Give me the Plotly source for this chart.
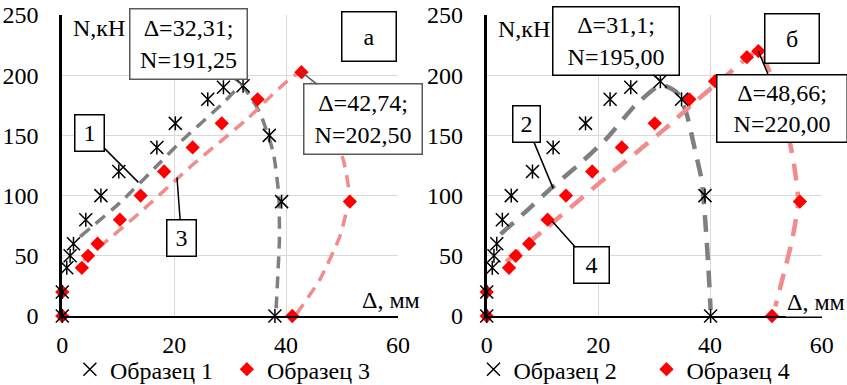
import plotly.graph_objects as go

# ---------------- data ----------------
# Panel a
x1 = [0, 0, 0.8, 1.4, 2.0, 4.2, 6.9, 10.1, 16.9, 20.2, 26.0, 28.8, 32.31, 37.0, 39.2, 38.0]
y1 = [0, 20, 40, 50, 60, 80, 100, 120, 140, 160, 180, 190, 191.25, 150, 95, 0]
x3 = [0, 0, 3.5, 4.6, 6.3, 10.3, 14.0, 18.2, 23.3, 28.5, 34.9, 42.74, 51.4, 41.1]
y3 = [0, 20, 40, 50, 60, 80, 100, 120, 140, 160, 180, 202.5, 95, 0]
grey_a_x = [3.2, 10.3, 17.4, 21.0, 28.8, 32.0, 35.3, 37.7, 38.7, 38.8, 38.2]
grey_a_y = [66, 94, 127, 144, 177, 191, 169, 136, 100, 63, 5]
red_a_x = [3.75, 13.9, 23.4, 32.9, 42.1, 45.0, 50.2, 51.3, 49.6, 46.0, 41.9]
red_a_y = [46, 86, 126, 163, 201, 190, 130, 100, 66, 30, 2]

# Panel b
x2 = [0, 0, 1.0, 1.3, 1.8, 2.8, 4.4, 8.2, 11.9, 17.7, 22.1, 25.8, 31.1, 34.9, 39.1, 40.1]
y2 = [0, 20, 40, 50, 60, 80, 100, 120, 140, 160, 180, 190, 195, 180, 100, 0]
x4 = [0, 0, 4.0, 5.2, 7.6, 10.9, 14.2, 18.9, 24.2, 30.1, 36.3, 40.9, 46.6, 48.66, 56.1, 51.1]
y4 = [0, 20, 40, 50, 60, 80, 100, 120, 140, 160, 180, 195, 215, 220, 95, 0]
grey_b_x = [2.5, 7.3, 11.5, 16.8, 21.6, 26.4, 31.2, 34.2, 35.8, 37.3, 38.5, 39.1, 39.7, 40.1]
grey_b_y = [68, 88, 106, 127, 148, 174, 192, 185, 168, 138, 113, 82, 41, 5]
red_b_x = [3.5, 10.9, 21.6, 31.8, 37.6, 43.0, 48.66, 52.5, 54.9, 55.8, 54.7, 53.2, 51.7]
red_b_y = [45, 74, 116, 155, 179, 200, 220, 180, 130, 95, 63, 35, 8]

x_ticks = [0, 20, 40, 60]
y_ticks = [0, 50, 100, 150, 200, 250]

names = ["Образец 1", "Образец 3", "Образец 2", "Образец 4"]

FONT = "Liberation Serif"
GREY = "#7F7F7F"
SALMON = "#F28B8B"
RED = "#FF0000"

fig = go.Figure()


def add_panel(xs, ys, xd, yd, gx, gy, rx, ry, xa, ya, leg, n_star, n_dia, dash_g, lw):
    fig.add_trace(go.Scatter(x=gx, y=gy, mode="lines", line=dict(color=GREY, width=lw, dash=dash_g, shape="spline", smoothing=0.5),
                             xaxis=xa, yaxis=ya, showlegend=False, hoverinfo="skip"))
    fig.add_trace(go.Scatter(x=rx, y=ry, mode="lines", line=dict(color=SALMON, width=lw, dash=dash_g, shape="spline", smoothing=0.5),
                             xaxis=xa, yaxis=ya, showlegend=False, hoverinfo="skip"))
    fig.add_trace(go.Scatter(x=xd, y=yd, mode="markers", name=n_dia, legend=leg, legendrank=2,
                             marker=dict(symbol="diamond", size=11, color=RED, line=dict(width=0)),
                             xaxis=xa, yaxis=ya, cliponaxis=False))
    fig.add_trace(go.Scatter(x=xs, y=ys, mode="markers", name=n_star, legend=leg, legendrank=1,
                             marker=dict(symbol="x-thin-open", size=13, color="black", line=dict(width=1.5, color="black")),
                             xaxis=xa, yaxis=ya, cliponaxis=False))
    fig.add_trace(go.Scatter(x=xs, y=ys, mode="markers", showlegend=False,
                             marker=dict(symbol="line-ns-open", size=10, color="black", line=dict(width=1.5, color="black")),
                             xaxis=xa, yaxis=ya, cliponaxis=False, hoverinfo="skip"))


add_panel(x1, y1, x3, y3, grey_a_x, grey_a_y, red_a_x, red_a_y, "x", "y", "legend", names[0], names[1], "12px,8px", 3.5)
add_panel(x2, y2, x4, y4, grey_b_x, grey_b_y, red_b_x, red_b_y, "x2", "y2", "legend2", names[2], names[3], "17px,11px", 4.5)

axis_common = dict(showgrid=True, gridcolor="#D9D9D9", gridwidth=1.2, zeroline=False,
                   tickfont=dict(family=FONT, size=24, color="black"), ticks="",
                   showline=True, linecolor="black")

fig.update_layout(
    width=847, height=385,
    margin=dict(l=0, r=0, t=15, b=69, autoexpand=False),
    paper_bgcolor="white", plot_bgcolor="white",
    font=dict(family=FONT, size=24, color="black"),
    xaxis=dict(domain=[0.07355, 0.46989], range=[0, 60], tickvals=x_ticks, linewidth=2,
               ticklabelstandoff=6, anchor="y", **axis_common),
    yaxis=dict(domain=[0, 1], range=[0, 250], tickvals=y_ticks, linewidth=3,
               ticklabelstandoff=16, anchor="x", **axis_common),
    xaxis2=dict(domain=[0.57462, 0.97013], range=[0, 60], tickvals=x_ticks, linewidth=2,
                ticklabelstandoff=6, anchor="y2", **axis_common),
    yaxis2=dict(domain=[0, 1], range=[0, 250], tickvals=y_ticks, linewidth=3,
                ticklabelstandoff=16, anchor="x2", **axis_common),
    legend=dict(orientation="h", x=0.0825, y=-0.178, xanchor="left", yanchor="middle",
                font=dict(family=FONT, size=24), entrywidth=112, bgcolor="rgba(0,0,0,0)"),
    legend2=dict(orientation="h", x=0.559, y=-0.178, xanchor="left", yanchor="middle",
                 font=dict(family=FONT, size=24), entrywidth=128, bgcolor="rgba(0,0,0,0)"),
)

ann = []


def box(text, xa, ya, cx, cy, w, h, color="black", tx=None, ty=None):
    d = dict(text=text, xref=xa, yref=ya, font=dict(family=FONT, size=24, color="black"),
             bgcolor="white", bordercolor=color, borderwidth=1.5, borderpad=1,
             width=w, height=h, align="center", valign="middle")
    if tx is None:
        d.update(x=cx, y=cy, showarrow=False)
    else:
        d.update(x=tx, y=ty, ax=cx, ay=cy, axref=xa, ayref=ya, showarrow=True,
                 arrowhead=0, arrowwidth=1.5, arrowcolor=color, standoff=0)
    ann.append(d)


# panel a
box("Δ=32,31;<br>N=191,25", "x", "y", 22.5, 225.8, 114, 67, "#595959", x1[12], y1[12])
box("Δ=42,74;<br>N=202,50", "x", "y", 53.7, 163.3, 115, 67, "#595959", x3[11], y3[11])
box("а", "x", "y", 54.9, 232, 51, 46)
box("1", "x", "y", 4.86, 151.7, 26, 33, "black", 13.6, 111)
box("3", "x", "y", 21.3, 65, 26, 33, "black", 20.5, 115)
# panel b
box("Δ=31,1;<br>N=195,00", "x2", "y2", 23.2, 228.75, 123, 65, "black", x2[12], y2[12])
box("б", "x2", "y2", 54.7, 230.8, 51, 46)
box("Δ=48,66;<br>N=220,00", "x2", "y2", 52.9, 172.5, 127, 64, "black", x4[13], y4[13])
box("2", "x2", "y2", 7.1, 159.6, 24, 33, "black", 11.9, 106)
box("4", "x2", "y2", 18.8, 42, 32, 33, "black", 11.7, 79)

# axis titles
for xa, ya, nx, ny, dx, dy in [("x", "y", 1.6, 239, 53.2, 13.3), ("x2", "y2", 1.67, 238, 53.5, 11.7)]:
    ann.append(dict(text="N,кН", xref=xa, yref=ya, x=nx, y=ny, xanchor="left", yanchor="middle",
                    showarrow=False, font=dict(family=FONT, size=24, color="black"), bgcolor="white"))
    ann.append(dict(text="Δ, мм", xref=xa, yref=ya, x=dx, y=dy, xanchor="left", yanchor="middle",
                    showarrow=False, font=dict(family=FONT, size=24, color="black"), bgcolor="white"))

fig.update_layout(annotations=ann)

fig.write_html("out.html")
